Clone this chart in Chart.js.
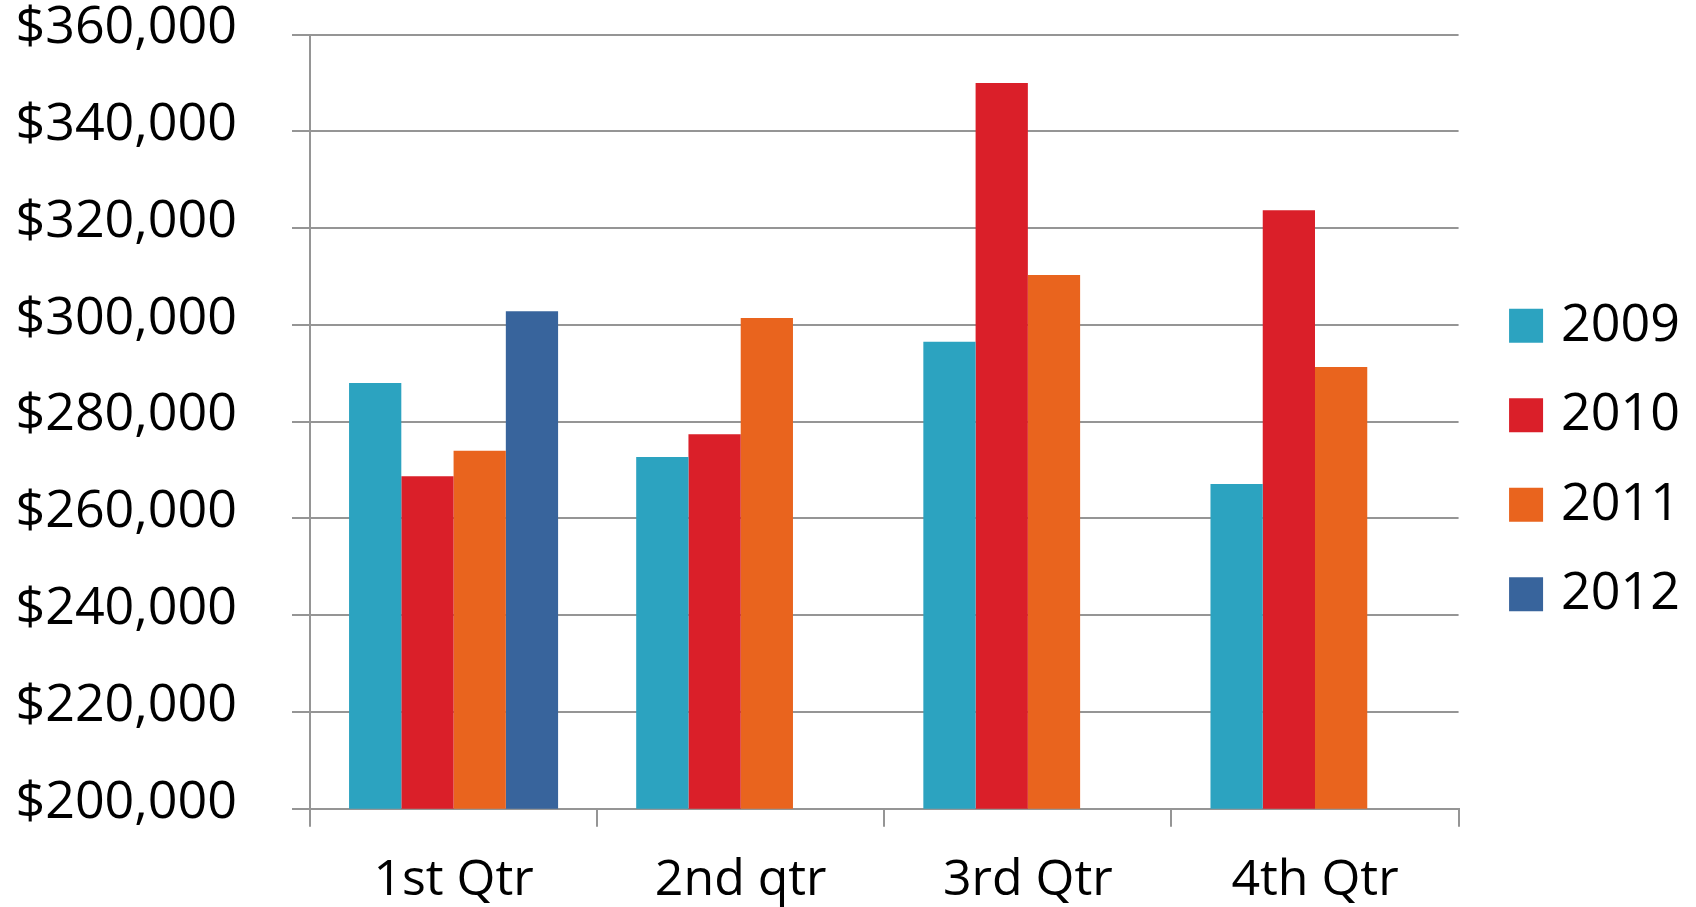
<!DOCTYPE html>
<html>
<head>
<meta charset="utf-8">
<script src="https://cdn.jsdelivr.net/npm/chart.js@4/dist/chart.umd.min.js"></script>
<style>
  html, body { margin: 0; padding: 0; background: #ffffff; }
  #wrap { width: 1696px; height: 907px; position: relative; }
</style>
</head>
<body>
<div id="wrap"><canvas id="c"></canvas></div>
<script>
const categories = ["1st Qtr", "2nd qtr", "3rd Qtr", "4th Qtr"];
const seriesNames = ["2009", "2010", "2011", "2012"];
const values2009 = [288000, 272700, 296500, 267100];
const values2010 = [268700, 277400, 350000, 323700];
const values2011 = [274000, 301400, 310300, 291300];
const values2012 = [302800, null, null, null];
const yTickValues = [200000, 220000, 240000, 260000, 280000, 300000, 320000, 340000, 360000];
const seriesColors = ["#2CA3C0", "#DA1F29", "#E9641E", "#38649C"];

const allValues = [values2009, values2010, values2011, values2012];
const gridColor = "#959595";
const fontFamily = "'Open Sans', sans-serif";

const datasets = seriesNames.map((name, i) => ({
  label: name,
  data: allValues[i],
  backgroundColor: seriesColors[i],
  borderWidth: 0,
  barPercentage: 1.0,
  categoryPercentage: 0.728,
  pointStyle: "rect"
}));

new Chart(document.getElementById("c"), {
  type: "bar",
  data: { labels: categories, datasets: datasets },
  options: {
    responsive: true,
    maintainAspectRatio: false,
    devicePixelRatio: 1,
    animation: false,
    layout: { padding: { left: 16, top: 13, right: 6, bottom: 0 } },
    plugins: {
      tooltip: { enabled: false },
      legend: {
        position: "right",
        align: "center",
        labels: {
          usePointStyle: true,
          pointStyle: "rect",
          boxWidth: 18,
          boxHeight: 34,
          padding: 37.5,
          color: "#000000",
          font: { family: fontFamily, size: 52 }
        }
      }
    },
    scales: {
      x: {
        afterFit: (scale) => { scale.height = 98.3; },
        grid: {
          offset: true,
          drawOnChartArea: false,
          drawTicks: true,
          tickLength: 18,
          color: gridColor,
          lineWidth: 2
        },
        border: { display: true, color: gridColor, width: 2 },
        ticks: {
          color: "#000000",
          padding: 24,
          maxRotation: 0,
          autoSkip: false,
          font: { family: fontFamily, size: 50 }
        }
      },
      y: {
        min: yTickValues[0],
        max: yTickValues[yTickValues.length - 1],
        afterBuildTicks: (scale) => { scale.ticks = yTickValues.map(v => ({ value: v })); },
        afterFit: (scale) => {
          scale.width = 294;
          scale.paddingTop = 34.5;
          scale.paddingBottom = 0;
        },
        grid: {
          drawTicks: true,
          tickLength: 18,
          color: gridColor,
          lineWidth: 2
        },
        border: { display: true, color: gridColor, width: 2 },
        ticks: {
          color: "#000000",
          padding: 55,
          labelOffset: -6,
          font: { family: fontFamily, size: 52 },
          callback: (v) => "$" + Number(v).toLocaleString("en-US")
        }
      },
      gap: {
        type: "linear",
        position: "right",
        display: true,
        grid: { display: false, drawTicks: false },
        border: { display: false },
        ticks: { display: false },
        afterFit: (scale) => {
          scale.width = 21;
          scale.paddingTop = 0;
          scale.paddingBottom = 0;
        }
      }
    }
  }
});
</script>
</body>
</html>
